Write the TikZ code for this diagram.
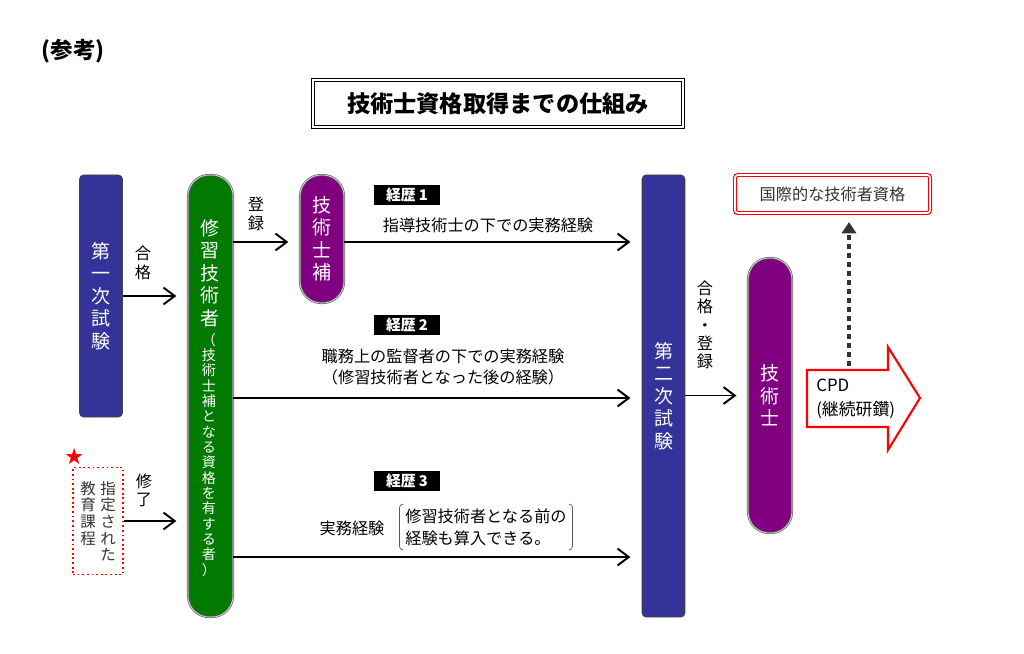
\documentclass[tikz,border=0pt]{standalone}
\usepackage{fontspec}
\setmainfont{Noto Sans CJK JP}
\usetikzlibrary{calc,arrows.meta}

\definecolor{examblue}{HTML}{333399}
\definecolor{shugigreen}{HTML}{007A00}
\definecolor{gishipurple}{HTML}{800080}
\definecolor{darktext}{HTML}{333333}

\tikzset{
	arr/.style={-{Straight Barb[length=8pt,width=12pt]}, line width=1.4pt, shorten >=8pt},
	vtext/.style={align=center, inner sep=0pt, text=white, font=\fontsize{13.5}{16}\selectfont},
	vsub/.style={align=center, inner sep=0pt, text=white, font=\fontsize{10}{10.9}\selectfont},
	vsmall/.style={align=center, inner sep=0pt, text=darktext, font=\fontsize{11}{11.8}\selectfont},
	lbl/.style={align=center, inner sep=0pt, font=\fontsize{11.5}{13}\selectfont},
	txt/.style={align=center, inner sep=0pt, font=\fontsize{11.5}{15.5}\selectfont},
	examblock/.style={vtext, draw=gray!50!black, line width=0.6pt, fill=examblue, rounded corners=3pt, minimum width=1.07cm},
	pill/.style={vtext, draw=gray!80!black, double=gray!30, double distance=0.5pt, line width=0.5pt, minimum width=1.1cm, rounded corners=0.53cm},
	tagbox/.style={fill=black, text=white, inner sep=0pt, minimum width=1.625cm, minimum height=0.5cm, font=\bfseries\fontsize{10.5}{12}\selectfont},
	brk/.style={draw=gray!70!black, line width=0.5pt, rounded corners=2.5pt}
}

\begin{document}
\begin{tikzpicture}[x=0.025cm,y=-0.025cm]

	\useasboundingbox (0,0) rectangle (1024,653);

	% heading
	\node[inner sep=0pt, font=\bfseries\fontsize{16}{18}\selectfont] (ref) at (73,51) {(参考)};
	\node[draw, double, line width=0.8pt, double distance=1.6pt, minimum width=9.25cm, minimum height=1.175cm,
		font=\bfseries\fontsize{16.5}{20}\selectfont] (title) at (498,103.5) {技術士資格取得までの仕組み};

	% exams and qualifications
	\node[examblock, minimum height=6.05cm] (exam1) at (101,296) {第\\一\\次\\試\\験};
	\node[pill, fill=shugigreen, minimum width=1.125cm, minimum height=11.05cm] (shugi) at (210.5,396) {};
	\node[vtext, anchor=north] (shugimain) at (210,219) {修\\習\\技\\術\\者};
	\node[vsub, anchor=north] (shugisub) at (209,333) {（\\技\\術\\士\\補\\と\\な\\る\\資\\格\\を\\有\\す\\る\\者\\）};
	\node[pill, fill=gishipurple, minimum height=3.2cm] (hoshi) at (322,239) {技\\術\\士\\補};
	\node[examblock, minimum height=11.05cm] (exam2) at (663.5,396) {第\\二\\次\\試\\験};
	\node[pill, fill=gishipurple, minimum height=6.875cm] (gishi) at (770,395.5) {技\\術\\士};

	% designated course
	\node[draw=red, dotted, line width=1.3pt, minimum width=1.25cm, minimum height=2.675cm] (course) at (98,521) {};
	\node[vsmall, anchor=north] (course1) at (108,481) {指\\定\\さ\\れ\\た};
	\node[vsmall, anchor=north] (course2) at (88,481) {教\\育\\課\\程};
	\node[inner sep=0pt, text=red, font=\fontsize{13}{13}\selectfont] (star) at (75,457) {★};

	% left connectors
	\draw[arr] (exam1.east) -- (exam1.east -| shugi.west);
	\node[lbl] (gokaku) at (143,263) {合\\格};
	\draw[arr] (course.east) -- (course.east -| shugi.west);
	\node[lbl] (shuryo) at (144,490) {修\\了};

	% experience routes
	\coordinate (row1) at (0,242);
	\coordinate (row2) at (0,398);
	\coordinate (row3) at (0,557);
	\draw[arr] (shugi.east |- row1) -- (hoshi.west |- row1);
	\node[lbl] (toroku) at (256,214) {登\\録};
	\draw[arr] (hoshi.east |- row1) -- (exam2.west |- row1);
	\draw[arr] (shugi.east |- row2) -- (exam2.west |- row2);
	\draw[arr] (shugi.east |- row3) -- (exam2.west |- row3);

	\node[tagbox] (tag1) at (407,195) {経歴 1};
	\node[txt] (route1) at (488,225) {指導技術士の下での実務経験};
	\node[tagbox] (tag2) at (407,325) {経歴 2};
	\node[txt] (route2) at (443,367) {職務上の監督者の下での実務経験\\（修習技術者となった後の経験）};
	\node[tagbox] (tag3) at (407,481) {経歴 3};
	\node[txt] (route3) at (352,528) {実務経験};
	\node[txt, align=left, inner xsep=4pt, inner ysep=3pt] (note3) at (486,527) {修習技術者となる前の\\経験も算入できる。};
	\draw[brk] ($(note3.north west)+(4,0)$) -- (note3.north west) -- (note3.south west) -- ($(note3.south west)+(4,0)$);
	\draw[brk] ($(note3.north east)+(-4,0)$) -- (note3.north east) -- (note3.south east) -- ($(note3.south east)+(-4,0)$);

	% second exam to professional engineer
	\draw[arr] (exam2.east |- gishi.west) -- (gishi.west);
	\node[lbl] (gokakutoroku) at (705,325) {合\\格\\・\\登\\録};

	% CPD
	\draw[draw=red, fill=white, line width=1.5pt, line join=miter]
		(807,370) -- (888,370) -- (888,347) -- (920,398) -- (888,450) -- (888,427) -- (807,427) -- cycle;
	\node[align=left, inner sep=0pt, anchor=west, font=\fontsize{12}{17}\selectfont] (cpd) at (816,399) {CPD\\(継続研鑽)};
	\node[draw=red, double, line width=0.8pt, double distance=1.2pt, rounded corners=2pt, minimum width=4.875cm,
		minimum height=0.95cm, text=darktext, font=\fontsize{11.5}{14}\selectfont] (intl) at (832.5,194) {国際的な技術者資格};
	\coordinate (cpdtop) at (849,366);
	\draw[-{Triangle[length=8pt,width=10pt]}, darktext, line width=3.2pt, dash pattern=on 3.4pt off 3pt, shorten >=6pt]
		(cpdtop) -- (intl.south -| cpdtop);

\end{tikzpicture}
\end{document}
